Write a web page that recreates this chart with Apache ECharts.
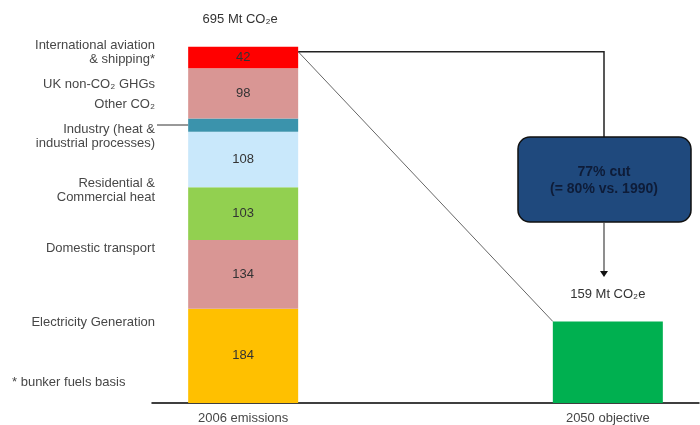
<!DOCTYPE html>
<html>
<head>
<meta charset="utf-8">
<script src="https://cdn.jsdelivr.net/npm/echarts@6/dist/echarts.min.js"></script>
<style>html,body{margin:0;padding:0;background:#fff}#c{width:700px;height:425px}</style>
</head>
<body>
<div id="c"></div>
<script>
const categories = ['2006 emissions', '', '2050 objective'];
const segmentNames = ['Electricity Generation', 'Domestic transport', 'Residential & Commercial heat', 'Industry', 'Other', 'UK non-CO2 GHGs', 'International aviation & shipping'];
const segmentValues2006 = [184, 134, 103, 108, 26, 98, 42];
const segmentValueLabels = ['184', '134', '103', '108', '', '98', '42'];
const segmentColors = ['#ffc000', '#d99694', '#92d050', '#c9e8fb', '#3b93ac', '#d99694', '#ff0000'];
const objective2050 = 159;
const totalLabel2006 = '695 Mt CO₂e';
const totalLabel2050 = '159 Mt CO₂e';
const leftLabels = [
  { text: 'International aviation\n& shipping*', y: 52 },
  { text: 'UK non-CO₂ GHGs', y: 84 },
  { text: 'Other CO₂', y: 104 },
  { text: 'Industry (heat &\nindustrial processes)', y: 136 },
  { text: 'Residential &\nCommercial heat', y: 190 },
  { text: 'Domestic transport', y: 248 },
  { text: 'Electricity Generation', y: 322 }
];
const footnote = '* bunker fuels basis';
const cutText = ['77% cut', '(= 80% vs. 1990)'];

const FONT = '"Liberation Sans", Arial, sans-serif';
const TXT = '#474747';
const chart = echarts.init(document.getElementById('c'));

const series = segmentValues2006.map((v, i) => ({
  name: segmentNames[i],
  type: 'bar',
  stack: 'total',
  barWidth: 110,
  data: [v, '-', '-'],
  itemStyle: { color: segmentColors[i] },
  label: {
    show: segmentValueLabels[i] !== '',
    position: 'inside',
    formatter: () => segmentValueLabels[i],
    color: '#333',
    fontSize: 13,
    fontFamily: FONT
  }
}));
series.push({
  name: '2050',
  type: 'bar',
  stack: 'total',
  barWidth: 110,
  data: ['-', '-', objective2050],
  itemStyle: { color: '#00b050' },
  label: {
    show: true,
    position: 'top',
    distance: 21,
    formatter: totalLabel2050,
    color: '#333',
    fontSize: 13,
    fontFamily: FONT
  }
});

chart.setOption({
  animation: false,
  grid: { left: 152, right: 1, top: 0, bottom: 21 },
  xAxis: {
    type: 'category',
    data: categories,
    axisLine: { lineStyle: { color: '#000', width: 1.5 } },
    axisTick: { show: false },
    axisLabel: { color: TXT, fontSize: 13, fontFamily: FONT, margin: 9 }
  },
  yAxis: {
    type: 'value', min: 0, max: 786,
    show: false, splitLine: { show: false }
  },
  series: series
});

const total = segmentValues2006.reduce((a, b) => a + b, 0);
const topLeft = chart.convertToPixel({ gridIndex: 0 }, [0, total]);
const topRight2050 = chart.convertToPixel({ gridIndex: 0 }, [2, objective2050]);
const half = 55;
const lx = topLeft[0] + half, ly = topLeft[1] + 5;
const rx = topRight2050[0] - half, ry = topRight2050[1];
const boxCx = 604;

const graphics = [];
graphics.push({ type: 'text', x: topLeft[0] - 3, y: topLeft[1] - 27, style: { text: totalLabel2006, fill: '#333', font: '13px ' + FONT, textAlign: 'center', textVerticalAlign: 'middle' } });
leftLabels.forEach(l => {
  graphics.push({ type: 'text', x: 155, y: l.y, style: { text: l.text, fill: TXT, font: '13px ' + FONT, textAlign: 'right', textVerticalAlign: 'middle', lineHeight: 14 } });
});
graphics.push({ type: 'text', x: 12, y: 382, style: { text: footnote, fill: TXT, font: '13px ' + FONT, textAlign: 'left', textVerticalAlign: 'middle' } });
// pointer for industry
graphics.push({ type: 'line', shape: { x1: 157, y1: 125, x2: topLeft[0] - half, y2: 125 }, style: { stroke: '#333', lineWidth: 1 } });
// diagonal
graphics.push({ type: 'line', shape: { x1: lx, y1: ly, x2: rx, y2: ry }, style: { stroke: '#666', lineWidth: 1 } });
// connector
graphics.push({ type: 'polyline', shape: { points: [[lx, ly], [boxCx, ly], [boxCx, 137]] }, style: { stroke: '#222', lineWidth: 1.5, fill: null } });
// box
graphics.push({ type: 'rect', shape: { x: 518, y: 137, width: 173, height: 85, r: 12 }, style: { fill: '#1f497d', stroke: '#111', lineWidth: 1.5 } });
graphics.push({ type: 'text', x: boxCx, y: 172, style: { text: cutText[0], fill: '#0e1c38', font: 'bold 14px ' + FONT, textAlign: 'center', textVerticalAlign: 'middle' } });
graphics.push({ type: 'text', x: boxCx, y: 189, style: { text: cutText[1], fill: '#0e1c38', font: 'bold 14px ' + FONT, textAlign: 'center', textVerticalAlign: 'middle' } });
// arrow
graphics.push({ type: 'line', shape: { x1: boxCx, y1: 222, x2: boxCx, y2: 272 }, style: { stroke: '#444', lineWidth: 1.2 } });
graphics.push({ type: 'polygon', shape: { points: [[boxCx - 4, 271], [boxCx + 4, 271], [boxCx, 277]] }, style: { fill: '#111' } });

chart.setOption({ graphic: graphics });
</script>
</body>
</html>
